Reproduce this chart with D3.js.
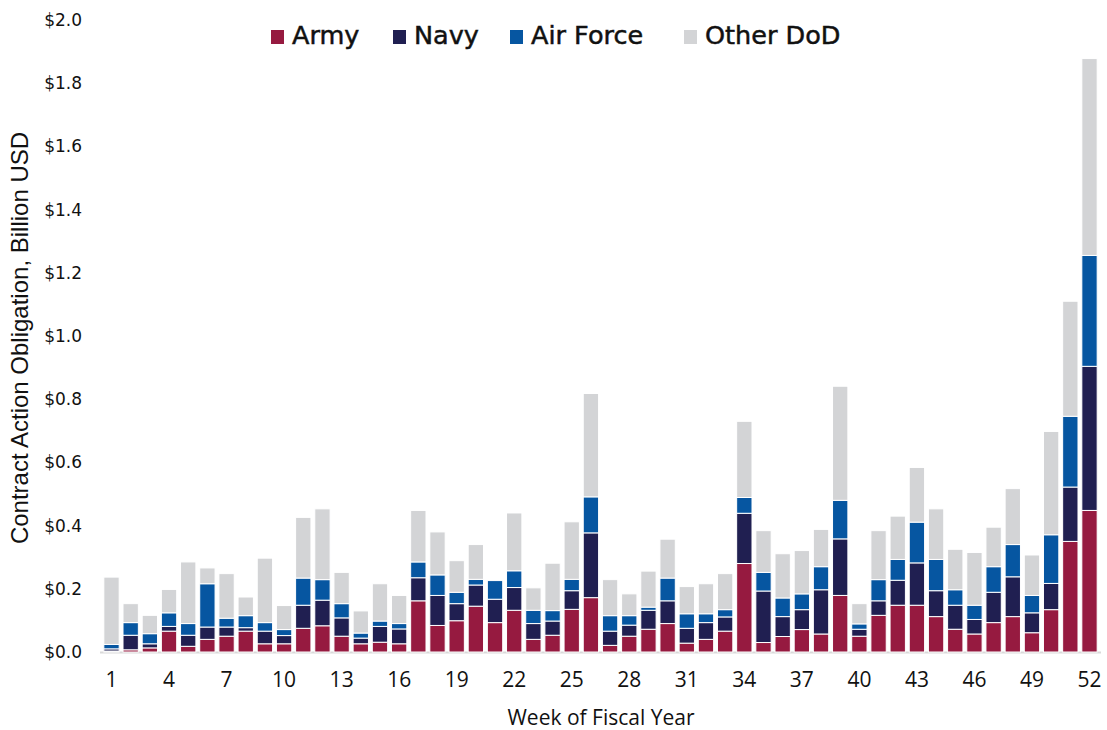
<!DOCTYPE html>
<html>
<head>
<meta charset="utf-8">
<script src="https://cdn.jsdelivr.net/npm/d3@7"></script>
<style>
  body { margin: 0; background: #fff; }
  svg { display: block; }
</style>
</head>
<body>
<div id="chart"></div>
<script>
// week of fiscal year 1..52
const weeks = d3.range(1, 53);

// values, billion USD
const army = [0.003, 0.007, 0.013, 0.066, 0.018, 0.040, 0.050, 0.066, 0.026, 0.026,
  0.075, 0.083, 0.050, 0.026, 0.031, 0.026, 0.162, 0.084, 0.099, 0.145,
  0.093, 0.132, 0.040, 0.053, 0.135, 0.172, 0.021, 0.050, 0.072, 0.090,
  0.028, 0.040, 0.066, 0.280, 0.030, 0.049, 0.071, 0.057, 0.179, 0.050,
  0.116, 0.148, 0.148, 0.112, 0.072, 0.057, 0.093, 0.112, 0.061, 0.134,
  0.350, 0.448];
const navy = [0.007, 0.046, 0.013, 0.015, 0.035, 0.039, 0.029, 0.011, 0.040, 0.026,
  0.073, 0.081, 0.058, 0.018, 0.050, 0.047, 0.073, 0.095, 0.054, 0.067,
  0.074, 0.072, 0.050, 0.045, 0.059, 0.205, 0.045, 0.035, 0.060, 0.072,
  0.047, 0.053, 0.045, 0.159, 0.163, 0.063, 0.063, 0.140, 0.179, 0.022,
  0.046, 0.079, 0.134, 0.082, 0.076, 0.046, 0.096, 0.126, 0.063, 0.083,
  0.172, 0.456];
const airForce = [0.014, 0.040, 0.032, 0.043, 0.037, 0.137, 0.028, 0.038, 0.027, 0.019,
  0.086, 0.065, 0.045, 0.016, 0.017, 0.017, 0.050, 0.065, 0.036, 0.018,
  0.059, 0.053, 0.042, 0.033, 0.036, 0.114, 0.049, 0.030, 0.010, 0.072,
  0.046, 0.028, 0.023, 0.050, 0.059, 0.059, 0.050, 0.073, 0.122, 0.017,
  0.067, 0.066, 0.129, 0.099, 0.049, 0.045, 0.081, 0.102, 0.055, 0.154,
  0.224, 0.351];
const otherDoD = [0.213, 0.060, 0.058, 0.074, 0.195, 0.050, 0.141, 0.059, 0.204, 0.076,
  0.192, 0.224, 0.099, 0.070, 0.118, 0.089, 0.163, 0.136, 0.100, 0.110,
  0.000, 0.183, 0.071, 0.150, 0.182, 0.327, 0.114, 0.069, 0.114, 0.123,
  0.086, 0.095, 0.114, 0.241, 0.132, 0.140, 0.137, 0.118, 0.361, 0.064,
  0.155, 0.137, 0.173, 0.160, 0.128, 0.167, 0.125, 0.177, 0.128, 0.327,
  0.364, 0.623];

const seriesNames = ["Army", "Navy", "Air Force", "Other DoD"];
const colors = ["#961a40", "#201f51", "#0656a1", "#d3d4d6"];
const yTicks = [0, 0.2, 0.4, 0.6, 0.8, 1.0, 1.2, 1.4, 1.6, 1.8, 2.0];
const xTicks = d3.range(1, 53, 3);

const width = 1107;
const height = 730;
const margin = {top: 20, right: 6, bottom: 78, left: 100};

const svg = d3.select("#chart").append("svg")
  .attr("width", width)
  .attr("height", height);

// build rows for the stack
const rows = weeks.map((w, i) => ({
  week: w,
  "Army": army[i],
  "Navy": navy[i],
  "Air Force": airForce[i],
  "Other DoD": otherDoD[i]
}));

const x = d3.scaleBand()
  .domain(weeks)
  .range([margin.left, width - margin.right])
  .padding(0.2);

const y = d3.scaleLinear()
  .domain([0, 2])
  .range([height - margin.bottom, margin.top]);

const color = d3.scaleOrdinal().domain(seriesNames).range(colors);

const stacked = d3.stack().keys(seriesNames)(rows);

// baseline
svg.append("line")
  .attr("x1", margin.left)
  .attr("x2", width - margin.right)
  .attr("y1", y(0) + 0.5)
  .attr("y2", y(0) + 0.5)
  .attr("stroke", "#d9d9d9")
  .attr("stroke-width", 2);

// bars
svg.append("g")
  .selectAll("g")
  .data(stacked)
  .join("g")
  .attr("fill", d => color(d.key))
  .selectAll("rect")
  .data(d => d)
  .join("rect")
  .attr("x", d => x(d.data.week))
  .attr("width", x.bandwidth())
  .attr("y", d => y(d[1]))
  .attr("height", d => Math.max(0, y(d[0]) - y(d[1])))
  .attr("stroke", "#fff")
  .attr("stroke-width", 1);

// y axis
const yAxis = svg.append("g")
  .attr("transform", "translate(" + margin.left + ",0)")
  .call(d3.axisLeft(y).tickValues(yTicks).tickSize(0).tickPadding(18)
    .tickFormat(d => "$" + d.toFixed(1)));
yAxis.select(".domain").remove();
yAxis.selectAll("text")
  .attr("font-family", "DejaVu Sans, sans-serif")
  .attr("font-size", 17)
  .attr("fill", "#111");

// x axis
const xAxis = svg.append("g")
  .attr("transform", "translate(0," + y(0) + ")")
  .call(d3.axisBottom(x).tickValues(xTicks).tickSize(0).tickPadding(20));
xAxis.select(".domain").remove();
xAxis.selectAll("text")
  .attr("font-family", "Open Sans, sans-serif")
  .attr("font-size", 21)
  .attr("fill", "#111");

// axis titles
svg.append("text")
  .attr("x", 601)
  .attr("y", 725)
  .attr("text-anchor", "middle")
  .attr("font-family", "Open Sans, sans-serif")
  .attr("font-size", 21)
  .attr("fill", "#111")
  .text("Week of Fiscal Year");

svg.append("text")
  .attr("transform", "translate(28,338) rotate(-90)")
  .attr("text-anchor", "middle")
  .attr("font-family", "Liberation Sans Narrow, Arial Narrow, sans-serif")
  .attr("font-size", 24)
  .attr("fill", "#111")
  .text("Contract Action Obligation, Billion USD");

// legend
const legendX = [271, 393, 510, 684];
const legend = svg.append("g")
  .selectAll("g")
  .data(seriesNames)
  .join("g")
  .attr("transform", (d, i) => "translate(" + legendX[i] + ",0)");
legend.append("rect")
  .attr("x", 0)
  .attr("y", 30)
  .attr("width", 13)
  .attr("height", 14)
  .attr("fill", d => color(d));
legend.append("text")
  .attr("x", 21)
  .attr("y", 44)
  .attr("font-family", "DejaVu Sans, sans-serif")
  .attr("font-size", 25.5)
  .attr("fill", "#111")
  .attr("stroke", "#111")
  .attr("stroke-width", 0.5)
  .text(d => d);
</script>
</body>
</html>
